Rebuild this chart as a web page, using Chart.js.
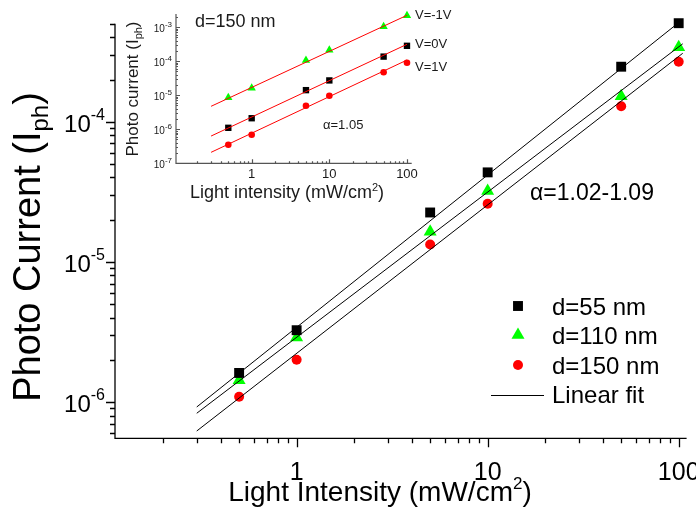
<!DOCTYPE html>
<html>
<head>
<meta charset="utf-8">
<script src="https://cdn.jsdelivr.net/npm/chart.js@4.4.1/dist/chart.umd.min.js"></script>
<style>
  html, body { margin: 0; padding: 0; background: #fff; }
  #wrap { position: relative; width: 696px; height: 518px; }
  #wrap canvas { position: absolute; left: 0; top: 0; }
</style>
</head>
<body>
<div id="wrap">
  <canvas id="mainChart" width="696" height="518"></canvas>
  <canvas id="insetChart" width="696" height="518"></canvas>
</div>
<script>
// Main plot: photocurrent vs light intensity for three thicknesses
const intensity = [0.5, 1, 5, 10, 50, 100];
const current55 = [1.61e-6, 3.25e-6, 2.25e-5, 4.35e-5, 2.47e-4, 5.05e-4];
const current110 = [1.43e-6, 2.88e-6, 1.64e-5, 3.2e-5, 1.52e-4, 3.4e-4];
const current150 = [1.09e-6, 2.0e-6, 1.33e-5, 2.6e-5, 1.29e-4, 2.68e-4];

// linear fits (end points)
const fit55X = [0.3, 100];
const fit55Y = [9.2e-7, 5.1e-4];
const fit110X = [0.3, 105];
const fit110Y = [8.3e-7, 3.6e-4];
const fit150X = [0.3, 105];
const fit150Y = [6.2e-7, 3.08e-4];

const mainXTicks = [1, 10, 100];
const mainXLabels = ['1', '10', '100'];
const mainYTicks = [1e-6, 1e-5, 1e-4];
const mainYExp = ['-6', '-5', '-4'];

// Inset: d=150 nm at three bias voltages
const insetIntensity = [0.5, 1, 5, 10, 50, 100];
const currentNeg1V = [8.5e-6, 1.6e-5, 1.05e-4, 2.1e-4, 1.02e-3, 2.15e-3];
const current0V = [1.1e-6, 2.1e-6, 1.4e-5, 2.7e-5, 1.35e-4, 2.8e-4];
const current1V = [3.5e-7, 6.9e-7, 4.9e-6, 9.6e-6, 4.7e-5, 8.9e-5];
const fitInsetX = [0.3, 100];
const fitNeg1VY = [4.7e-6, 2.2e-3];
const fit0VY = [6.3e-7, 3.1e-4];
const fit1VY = [2.1e-7, 1.07e-4];

const insetXTicks = [1, 10, 100];
const insetXLabels = ['1', '10', '100'];
const insetYTicks = [1e-7, 1e-6, 1e-5, 1e-4, 1e-3];
const insetYExp = ['-7', '-6', '-5', '-4', '-3'];

const FONT = 'Arial, "Liberation Sans", sans-serif';
const GREEN = '#00ff00';
const RED = '#ff0000';

const toPoints = (xs, ys) => xs.map((x, i) => ({ x: x, y: ys[i] }));

function minorTicks(min, max) {
    const out = [];
    for (let e = Math.floor(Math.log10(min)); e <= Math.ceil(Math.log10(max)); e++) {
        for (let m = 2; m <= 9; m++) {
            const v = m * Math.pow(10, e);
            if (v >= min && v <= max) out.push(v);
        }
    }
    return out;
}

// draws a row of text runs (for super/subscripts); align: left|center|right
function drawRuns(ctx, runs, x, y, align) {
    let total = 0;
    const widths = runs.map(r => {
        ctx.font = r.size + 'px ' + FONT;
        const w = ctx.measureText(r.t).width;
        total += w;
        return w;
    });
    let cx = align === 'right' ? x - total : align === 'center' ? x - total / 2 : x;
    ctx.textAlign = 'left';
    ctx.textBaseline = 'alphabetic';
    runs.forEach((r, i) => {
        ctx.font = r.size + 'px ' + FONT;
        ctx.fillText(r.t, cx, y + (r.dy || 0));
        cx += widths[i];
    });
}

// left + bottom axis lines with log ticks
const logAxes = {
    id: 'logAxes',
    afterDraw(chart, args, o) {
        const { ctx, chartArea: a } = chart;
        const xs = chart.scales.x, ys = chart.scales.y;
        ctx.save();
        ctx.strokeStyle = o.color;
        ctx.lineWidth = o.lineWidth;
        ctx.beginPath();
        ctx.moveTo(a.left, a.top);
        ctx.lineTo(a.left, a.bottom);
        ctx.lineTo(a.right, a.bottom);
        ctx.stroke();

        const d = o.dir; // 1 = outward, -1 = inward
        ctx.beginPath();
        o.xMajor.forEach(v => {
            const px = Math.round(xs.getPixelForValue(v)) + 0.5;
            ctx.moveTo(px, a.bottom); ctx.lineTo(px, a.bottom + d * o.major);
        });
        minorTicks(xs.min, xs.max).forEach(v => {
            const px = Math.round(xs.getPixelForValue(v)) + 0.5;
            ctx.moveTo(px, a.bottom); ctx.lineTo(px, a.bottom + d * o.minor);
        });
        o.yMajor.forEach(v => {
            const py = Math.round(ys.getPixelForValue(v)) + 0.5;
            ctx.moveTo(a.left, py); ctx.lineTo(a.left - d * o.major, py);
        });
        minorTicks(ys.min, ys.max).forEach(v => {
            const py = Math.round(ys.getPixelForValue(v)) + 0.5;
            ctx.moveTo(a.left, py); ctx.lineTo(a.left - d * o.minor, py);
        });
        ctx.stroke();
        ctx.restore();
    }
};

const mainText = {
    id: 'mainText',
    afterDraw(chart) {
        const ctx = chart.ctx;
        const xs = chart.scales.x, ys = chart.scales.y;
        ctx.save();
        ctx.fillStyle = '#000';

        mainYTicks.forEach((v, i) => {
            const py = ys.getPixelForValue(v);
            drawRuns(ctx, [{ t: '10', size: 24 }, { t: mainYExp[i], size: 16, dy: -12 }], 105, py + 10, 'right');
        });
        mainXTicks.forEach((v, i) => {
            drawRuns(ctx, [{ t: mainXLabels[i], size: 25 }], xs.getPixelForValue(v), 480, 'center');
        });

        drawRuns(ctx, [
            { t: 'Light Intensity (mW/cm', size: 28 },
            { t: '2', size: 17, dy: -12 },
            { t: ')', size: 28 }
        ], 380, 501, 'center');

        ctx.save();
        ctx.translate(40, 247);
        ctx.rotate(-Math.PI / 2);
        drawRuns(ctx, [
            { t: 'Photo Current (I', size: 38 },
            { t: 'ph', size: 24, dy: 8 },
            { t: ')', size: 38 }
        ], 0, 0, 'center');
        ctx.restore();

        drawRuns(ctx, [{ t: 'α=1.02-1.09', size: 23 }], 530, 200, 'left');

        // legend
        const rows = [306, 335, 365, 395];
        const helpers = Chart.helpers;
        chart.data.datasets.slice(0, 3).forEach((ds, i) => {
            ctx.fillStyle = ds.pointBackgroundColor;
            helpers.drawPoint(ctx, { pointStyle: ds.pointStyle, radius: ds.pointRadius, rotation: 0, borderWidth: 0 }, 518, rows[i]);
            ctx.fillStyle = '#000';
            drawRuns(ctx, [{ t: ds.label, size: 24 }], 552, rows[i] + 9, 'left');
        });
        ctx.strokeStyle = '#000';
        ctx.lineWidth = 1;
        ctx.beginPath();
        ctx.moveTo(491, rows[3] + 0.5);
        ctx.lineTo(544, rows[3] + 0.5);
        ctx.stroke();
        drawRuns(ctx, [{ t: 'Linear fit', size: 24 }], 552, rows[3] + 8, 'left');
        ctx.restore();
    }
};

const insetText = {
    id: 'insetText',
    afterDraw(chart) {
        const ctx = chart.ctx;
        const xs = chart.scales.x, ys = chart.scales.y;
        ctx.save();
        ctx.fillStyle = '#1a1a1a';

        insetYTicks.forEach((v, i) => {
            const py = ys.getPixelForValue(v);
            drawRuns(ctx, [{ t: '10', size: 10 }, { t: insetYExp[i], size: 8, dy: -5 }], 172, py + 5, 'right');
        });
        insetXTicks.forEach((v, i) => {
            drawRuns(ctx, [{ t: insetXLabels[i], size: 13 }], xs.getPixelForValue(v), 178, 'center');
        });

        drawRuns(ctx, [
            { t: 'Light intensity (mW/cm', size: 18 },
            { t: '2', size: 11, dy: -7 },
            { t: ')', size: 18 }
        ], 287, 198, 'center');

        ctx.save();
        ctx.translate(138, 89);
        ctx.rotate(-Math.PI / 2);
        drawRuns(ctx, [
            { t: 'Photo current (I', size: 17 },
            { t: 'ph', size: 11, dy: 4 },
            { t: ')', size: 17 }
        ], 0, 0, 'center');
        ctx.restore();

        drawRuns(ctx, [{ t: 'd=150 nm', size: 18 }], 195, 27, 'left');
        drawRuns(ctx, [{ t: 'V=-1V', size: 13 }], 415, 19, 'left');
        drawRuns(ctx, [{ t: 'V=0V', size: 13 }], 415, 48, 'left');
        drawRuns(ctx, [{ t: 'V=1V', size: 13 }], 415, 71, 'left');
        drawRuns(ctx, [{ t: 'α=1.05', size: 13 }], 323, 129, 'left');
        ctx.restore();
    }
};

function markerSet(label, xs, ys, style, radius, color) {
    return {
        label: label, data: toPoints(xs, ys), showLine: false,
        pointStyle: style, pointRadius: radius,
        pointBackgroundColor: color, pointBorderWidth: 0,
        clip: false, order: 2
    };
}

function fitLine(xs, ys, color) {
    return {
        label: 'Linear fit', data: toPoints(xs, ys), showLine: true,
        pointRadius: 0, borderColor: color, borderWidth: 1,
        tension: 0, clip: false, order: 1
    };
}

const baseOptions = {
    responsive: false,
    animation: false,
    devicePixelRatio: 1,
    events: [],
    plugins: { legend: { display: false }, tooltip: { enabled: false } }
};

new Chart(document.getElementById('mainChart'), {
    type: 'scatter',
    data: {
        datasets: [
            markerSet('d=55 nm', intensity, current55, 'rect', 7, '#000'),
            markerSet('d=110 nm', intensity, current110, 'triangle', 7.5, GREEN),
            markerSet('d=150 nm', intensity, current150, 'circle', 5, RED),
            fitLine(fit55X, fit55Y, '#000'),
            fitLine(fit110X, fit110Y, '#000'),
            fitLine(fit150X, fit150Y, '#000')
        ]
    },
    options: Object.assign({}, baseOptions, {
        layout: { padding: { left: 115, right: 9.4, top: 23.8, bottom: 79.7 } },
        scales: {
            x: { type: 'logarithmic', min: 0.112, max: 110, display: false },
            y: { type: 'logarithmic', min: 5.5e-7, max: 5e-4, display: false }
        },
        plugins: Object.assign({}, baseOptions.plugins, {
            logAxes: { color: '#000', lineWidth: 1.3, dir: 1, major: 9, minor: 5, xMajor: mainXTicks, yMajor: mainYTicks }
        })
    }),
    plugins: [logAxes, mainText]
});

new Chart(document.getElementById('insetChart'), {
    type: 'scatter',
    data: {
        datasets: [
            markerSet('V=-1V', insetIntensity, currentNeg1V, 'triangle', 4.8, GREEN),
            markerSet('V=0V', insetIntensity, current0V, 'rect', 4.5, '#000'),
            markerSet('V=1V', insetIntensity, current1V, 'circle', 3.3, RED),
            fitLine(fitInsetX, fitNeg1VY, RED),
            fitLine(fitInsetX, fit0VY, RED),
            fitLine(fitInsetX, fit1VY, RED)
        ]
    },
    options: Object.assign({}, baseOptions, {
        layout: { padding: { left: 176, right: 284.3, top: 14, bottom: 354.7 } },
        scales: {
            x: { type: 'logarithmic', min: 0.106, max: 115, display: false },
            y: { type: 'logarithmic', min: 1e-7, max: 2.4e-3, display: false }
        },
        plugins: Object.assign({}, baseOptions.plugins, {
            logAxes: { color: '#555', lineWidth: 1.2, dir: -1, major: 4, minor: 2, xMajor: insetXTicks, yMajor: insetYTicks }
        })
    }),
    plugins: [logAxes, insetText]
});
</script>
</body>
</html>
